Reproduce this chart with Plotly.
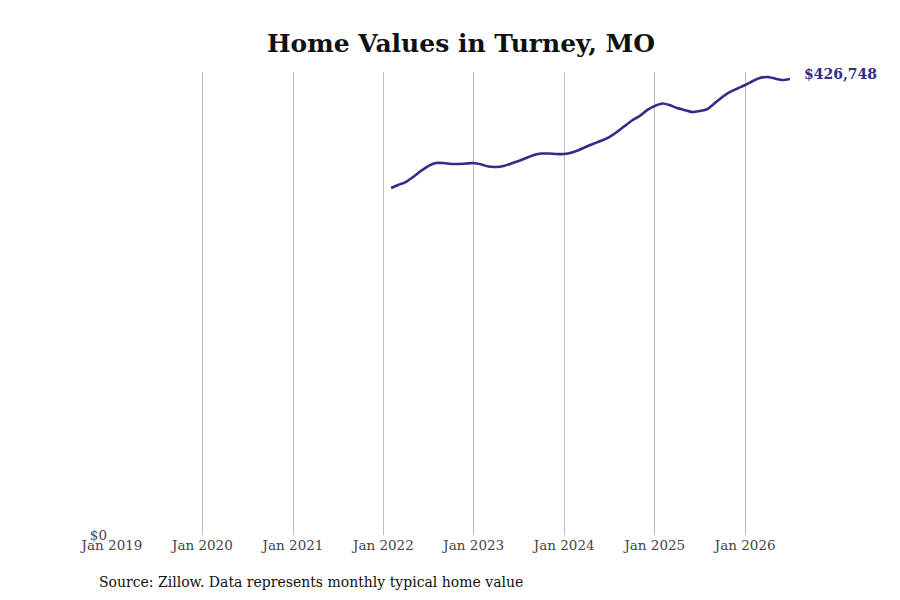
import plotly.graph_objects as go

LINE_COLOR = "#302d87"

dates = (
    [f"2022-{m:02d}-01" for m in range(2, 13)]
    + [f"2023-{m:02d}-01" for m in range(1, 13)]
    + [f"2024-{m:02d}-01" for m in range(1, 13)]
    + [f"2025-{m:02d}-01" for m in range(1, 13)]
    + [f"2026-{m:02d}-01" for m in range(1, 8)]
)

values = [
    # 2022 (Feb-Dec)
    324700, 327500, 330300, 335000, 340600, 345300, 348100, 348100, 347200, 347200, 347600,
    # 2023
    348100, 346700, 344800, 344400, 345300, 347600, 350000, 352800, 355600, 357000, 357000, 356500,
    # 2024
    356500, 357900, 360300, 363600, 366400, 369200, 372400, 377100, 382700, 387900, 392100, 397700,
    # 2025
    401500, 403800, 402400, 399600, 397700, 395800, 396800, 398600, 404300, 409900, 414600, 417900,
    # 2026 (Jan-Jul)
    421100, 424900, 427700, 428600, 427200, 425800, 426748,
]

last_label = "$426,748"

fig = go.Figure()
fig.add_trace(
    go.Scatter(
        x=dates,
        y=values,
        mode="lines",
        line=dict(color=LINE_COLOR, width=2.6, shape="spline", smoothing=0.6),
        hoverinfo="skip",
        showlegend=False,
    )
)

fig.add_annotation(
    x=dates[-1],
    y=values[-1],
    text=f"<b>{last_label}</b>",
    showarrow=False,
    xanchor="left",
    yanchor="middle",
    xshift=12,
    yshift=5,
    font=dict(family="DejaVu Serif", size=14, color=LINE_COLOR),
)

fig.add_annotation(
    x=-0.022,
    y=-0.1015,
    xref="paper",
    yref="paper",
    text="Source: Zillow. Data represents monthly typical home value",
    showarrow=False,
    xanchor="left",
    yanchor="middle",
    font=dict(family="DejaVu Serif", size=14, color="#111111"),
)

# page body adds an 8px offset, so margins are shifted to compensate
fig.update_layout(
    title=dict(
        text="<b>Home Values in Turney, MO</b>",
        x=453 / 900,
        xanchor="center",
        y=1 - 35 / 600,
        yanchor="middle",
        font=dict(family="DejaVu Serif", size=25, color="#111111"),
    ),
    width=900,
    height=600,
    margin=dict(l=104, r=118, t=64, b=73),
    paper_bgcolor="white",
    plot_bgcolor="white",
    font=dict(family="DejaVu Serif", size=13.5, color="#444444"),
    xaxis=dict(
        type="date",
        range=["2019-01-01", "2026-07-01"],
        dtick="M12",
        tick0="2019-01-01",
        tickformat="%b %Y",
        showgrid=True,
        gridcolor="#bbbbbb",
        gridwidth=1,
        showline=False,
        zeroline=False,
        ticks="",
    ),
    yaxis=dict(
        range=[0, 433300],
        tickvals=[0],
        ticktext=["$0"],
        showgrid=False,
        zeroline=False,
        showline=False,
        ticks="",
        ticklabelstandoff=4,
    ),
)

fig.write_html("out.html")
